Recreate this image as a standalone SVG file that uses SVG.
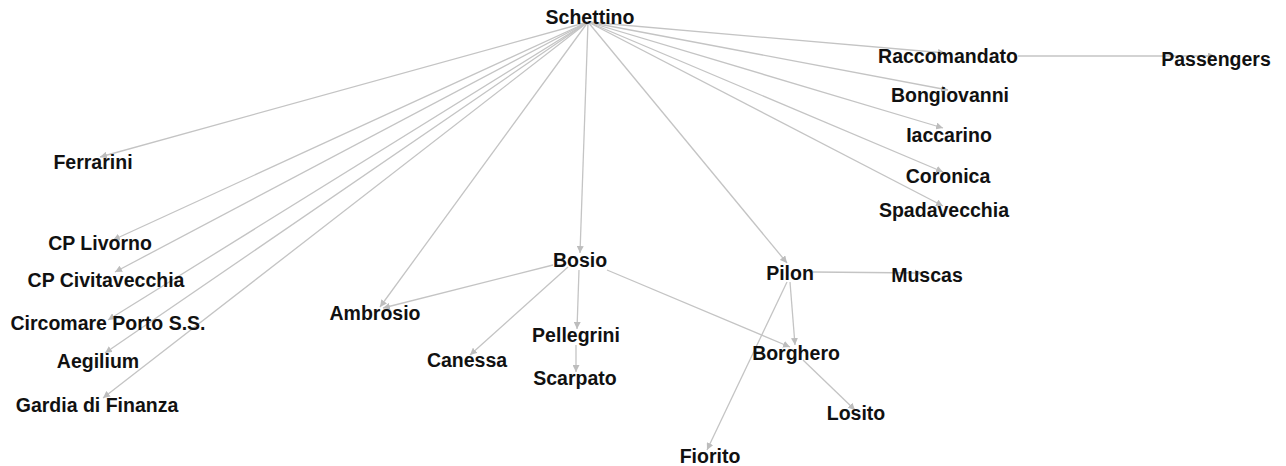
<svg xmlns="http://www.w3.org/2000/svg" width="1286" height="466" viewBox="0 0 1286 466">
  <style>
    .edge { stroke: #c4c4c4; stroke-width: 1.3; fill: none; marker-end: url(#arrow); }
    .label { font-family: "Liberation Sans", Arial, sans-serif; font-weight: bold; font-size: 19.5px; fill: #111111; text-anchor: middle; }
  </style>
  <defs>
    <marker id="arrow" viewBox="0 0 10 10" refX="10" refY="5" markerWidth="7" markerHeight="7" markerUnits="userSpaceOnUse" orient="auto">
      <path d="M0,0 L10,5 L0,10 z" fill="#bdbdbd"/>
    </marker>
  </defs>
  <rect width="1286" height="466" fill="#ffffff"/>

  <g id="connectors">
    <!-- Schettino fan-out -->
    <line class="edge" x1="588" y1="22" x2="100" y2="157"/>
    <line class="edge" x1="588" y1="22" x2="113" y2="240"/>
    <line class="edge" x1="588" y1="22" x2="115" y2="272"/>
    <line class="edge" x1="588" y1="22" x2="108" y2="320"/>
    <line class="edge" x1="588" y1="22" x2="105" y2="353"/>
    <line class="edge" x1="588" y1="22" x2="103" y2="398"/>
    <line class="edge" x1="588" y1="22" x2="380" y2="307"/>
    <line class="edge" x1="588" y1="22" x2="580" y2="253"/>
    <line class="edge" x1="588" y1="22" x2="787" y2="263"/>
    <line class="edge" x1="588" y1="22" x2="945" y2="53"/>
    <line class="edge" x1="588" y1="22" x2="948" y2="90"/>
    <line class="edge" x1="588" y1="22" x2="943" y2="128"/>
    <line class="edge" x1="588" y1="22" x2="943" y2="172"/>
    <line class="edge" x1="588" y1="22" x2="943" y2="206"/>
    <!-- Raccomandato -->
    <line class="edge" x1="1018" y1="56" x2="1215" y2="56"/>
    <!-- Bosio -->
    <line class="edge" x1="553" y1="265" x2="383" y2="308"/>
    <line class="edge" x1="568" y1="267" x2="470" y2="355"/>
    <line class="edge" x1="579" y1="270" x2="577" y2="329"/>
    <line class="edge" x1="607" y1="270" x2="790" y2="347"/>
    <!-- Pellegrini -->
    <line class="edge" x1="576" y1="345" x2="576" y2="372"/>
    <!-- Pilon -->
    <line class="edge" x1="813" y1="272" x2="922" y2="273"/>
    <line class="edge" x1="790" y1="282" x2="795" y2="345"/>
    <line class="edge" x1="787" y1="282" x2="707" y2="450"/>
    <!-- Borghero -->
    <line class="edge" x1="803" y1="360" x2="855" y2="410"/>
  </g>

  <g id="node-schettino"><text class="label" x="590" y="24">Schettino</text></g>
  <g id="node-raccomandato"><text class="label" x="948" y="63">Raccomandato</text></g>
  <g id="node-passengers"><text class="label" x="1216" y="66">Passengers</text></g>
  <g id="node-bongiovanni"><text class="label" x="950" y="102">Bongiovanni</text></g>
  <g id="node-iaccarino"><text class="label" x="949" y="142">Iaccarino</text></g>
  <g id="node-coronica"><text class="label" x="948" y="183">Coronica</text></g>
  <g id="node-spadavecchia"><text class="label" x="944" y="217">Spadavecchia</text></g>
  <g id="node-ferrarini"><text class="label" x="93" y="169">Ferrarini</text></g>
  <g id="node-cp-livorno"><text class="label" x="100" y="250">CP Livorno</text></g>
  <g id="node-cp-civitavecchia"><text class="label" x="106" y="287">CP Civitavecchia</text></g>
  <g id="node-circomare"><text class="label" x="108" y="330">Circomare Porto S.S.</text></g>
  <g id="node-aegilium"><text class="label" x="98" y="368">Aegilium</text></g>
  <g id="node-gardia"><text class="label" x="97" y="412">Gardia di Finanza</text></g>
  <g id="node-bosio"><text class="label" x="580" y="267">Bosio</text></g>
  <g id="node-ambrosio"><text class="label" x="375" y="320">Ambrosio</text></g>
  <g id="node-canessa"><text class="label" x="467" y="367">Canessa</text></g>
  <g id="node-pellegrini"><text class="label" x="576" y="342">Pellegrini</text></g>
  <g id="node-scarpato"><text class="label" x="575" y="385">Scarpato</text></g>
  <g id="node-pilon"><text class="label" x="790" y="280">Pilon</text></g>
  <g id="node-muscas"><text class="label" x="927" y="282">Muscas</text></g>
  <g id="node-borghero"><text class="label" x="796" y="360">Borghero</text></g>
  <g id="node-losito"><text class="label" x="856" y="420">Losito</text></g>
  <g id="node-fiorito"><text class="label" x="710" y="463">Fiorito</text></g>
</svg>
